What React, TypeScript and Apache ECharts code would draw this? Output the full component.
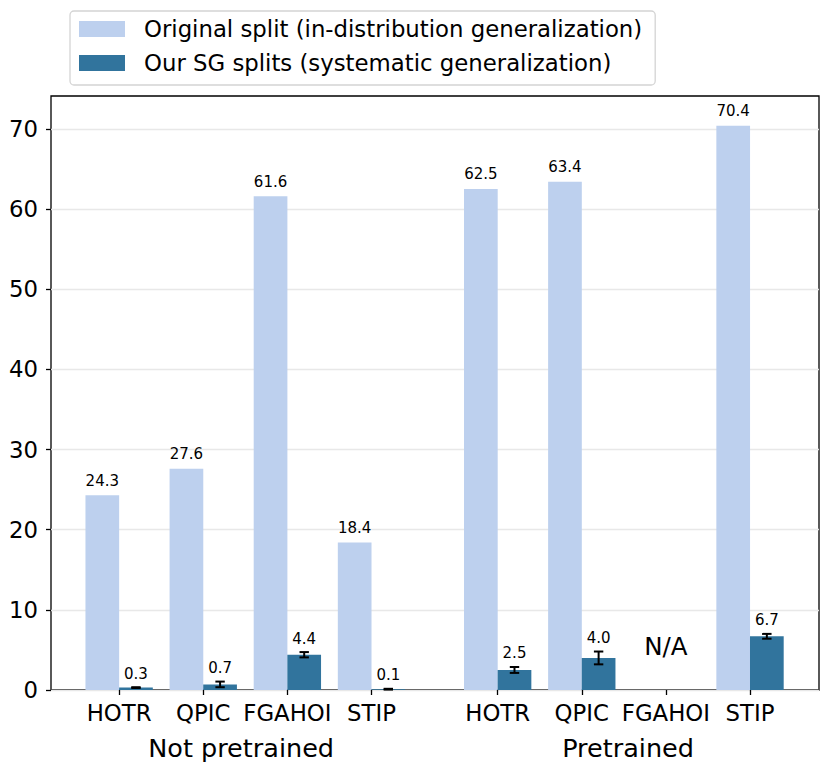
import React, { useEffect, useRef } from "react";
import * as echarts from "echarts";

const models = ["HOTR", "QPIC", "FGAHOI", "STIP", "HOTR", "QPIC", "FGAHOI", "STIP"];
const positions = [0, 1, 2, 3, 4.5, 5.5, 6.5, 7.5];
const groups = ["Not pretrained", "Pretrained"];
const groupPositions = [1.45, 6.05];
const originalSplit: (number | null)[] = [24.3, 27.6, 61.6, 18.4, 62.5, 63.4, null, 70.4];
const sgSplit: (number | null)[] = [0.3, 0.7, 4.4, 0.1, 2.5, 4.0, null, 6.7];
const sgError: (number | null)[] = [0.05, 0.35, 0.33, 0.05, 0.37, 0.8, null, 0.3];
const yTicks = [0, 10, 20, 30, 40, 50, 60, 70];
const naNote = { label: "N/A", index: 6 };

const FONT = "DejaVu Sans";
const LIGHT = "#bdd0ee";
const DARK = "#31749d";

export default function App() {
  const ref = useRef<HTMLDivElement>(null);
  useEffect(() => {
    if (!ref.current) return;
    const chart = echarts.init(ref.current, undefined, { renderer: "svg" });
    const lightData: any[] = [];
    const darkData: any[] = [];
    const errData: any[] = [];
    positions.forEach((p, i) => {
      if (originalSplit[i] != null) lightData.push([p - 0.2, originalSplit[i]]);
      if (sgSplit[i] != null) {
        darkData.push([p + 0.2, sgSplit[i]]);
        errData.push([p + 0.2, sgSplit[i], sgError[i]]);
      }
    });
    const labelOf = (v: number) => {
      for (let i = 0; i < positions.length; i++) if (Math.abs(positions[i] - v) < 1e-6) return models[i];
      return "";
    };
    const groupOf = (v: number) => {
      for (let i = 0; i < groupPositions.length; i++) if (Math.abs(groupPositions[i] - v) < 1e-6) return groups[i];
      return "";
    };
    const option: any = {
      animation: false,
      textStyle: { fontFamily: FONT },
      grid: {
        left: 51,
        right: 11,
        top: 96,
        bottom: 85,
        show: true,
        borderColor: "#000",
        borderWidth: 1.3,
        backgroundColor: "transparent",
      },
      legend: {
        orient: "vertical",
        left: 70,
        top: 11,
        padding: [5, 13, 9, 9],
        itemWidth: 46,
        itemHeight: 16,
        itemGap: 8,
        icon: "rect",
        backgroundColor: "#fff",
        borderColor: "#d4d4d4",
        borderWidth: 1.3,
        borderRadius: 4,
        textStyle: {
          fontFamily: FONT,
          fontSize: 22.8,
          lineHeight: 26,
          color: "#000",
          padding: [0, 0, 0, 14],
        },
        data: [
          "Original split (in-distribution generalization)",
          "Our SG splits (systematic generalization)",
        ],
      },
      xAxis: [
        {
          type: "value",
          min: -0.81,
          max: 8.32,
          axisLine: { show: false, onZero: false },
          splitLine: { show: false },
          axisTick: {
            show: true,
            customValues: positions,
            length: 5,
            lineStyle: { color: "#000", width: 1.3 },
          },
          axisLabel: {
            customValues: positions,
            formatter: (v: number) => labelOf(v),
            fontFamily: FONT,
            fontSize: 22.8,
            color: "#000",
            margin: 11,
          },
        },
        {
          type: "value",
          position: "bottom",
          min: -0.81,
          max: 8.32,
          axisLine: { show: false, onZero: false },
          splitLine: { show: false },
          axisTick: { show: false },
          axisLabel: {
            customValues: groupPositions,
            formatter: (v: number) => groupOf(v),
            fontFamily: FONT,
            fontSize: 25.5,
            color: "#000",
            margin: 45,
          },
        },
      ],
      yAxis: {
        type: "value",
        position: "left",
        min: 0,
        max: 74.1,
        interval: 10,
        axisLine: { show: false, onZero: false },
        axisTick: {
          show: true,
          customValues: yTicks,
          length: 5,
          lineStyle: { color: "#000", width: 1.3 },
        },
        axisLabel: {
          customValues: yTicks,
          fontFamily: FONT,
          fontSize: 22.8,
          color: "#000",
          margin: 13,
        },
        splitLine: { show: true, lineStyle: { color: "#e8e8e8", width: 1.3 } },
      },
      series: [
        {
          name: "Original split (in-distribution generalization)",
          type: "bar",
          xAxisIndex: 0,
          data: lightData,
          barWidth: 33.7,
          barGap: "-100%",
          itemStyle: { color: LIGHT },
          label: {
            show: true,
            position: "top",
            distance: 7,
            formatter: (p: any) => Number(p.value[1]).toFixed(1),
            fontFamily: FONT,
            fontSize: 15,
            color: "#000",
          },
        },
        {
          name: "Our SG splits (systematic generalization)",
          type: "bar",
          xAxisIndex: 0,
          data: darkData,
          barWidth: 33.7,
          barGap: "-100%",
          itemStyle: { color: DARK },
        },
        {
          type: "custom",
          xAxisIndex: 0,
          data: errData,
          z: 10,
          renderItem: (params: any, api: any) => {
            const x = api.value(0);
            const v = api.value(1);
            const e = api.value(2);
            const hi = api.coord([x, v + e]);
            const lo = api.coord([x, Math.max(0, v - e)]);
            const cap = 4.7;
            const ls = { stroke: "#000", lineWidth: 2 };
            return {
              type: "group",
              children: [
                { type: "line", shape: { x1: hi[0], y1: hi[1], x2: lo[0], y2: lo[1] }, style: ls },
                { type: "line", shape: { x1: hi[0] - cap, y1: hi[1], x2: hi[0] + cap, y2: hi[1] }, style: ls },
                { type: "line", shape: { x1: lo[0] - cap, y1: lo[1], x2: lo[0] + cap, y2: lo[1] }, style: ls },
                {
                  type: "text",
                  x: hi[0],
                  y: hi[1] - 6,
                  style: {
                    text: Number(v).toFixed(1),
                    align: "center",
                    verticalAlign: "bottom",
                    fontFamily: FONT,
                    fontSize: 15,
                    fill: "#000",
                  },
                },
              ],
            };
          },
        },
        {
          type: "custom",
          xAxisIndex: 0,
          data: [[positions[naNote.index], 5.4]],
          silent: true,
          z: 10,
          renderItem: (params: any, api: any) => {
            const c = api.coord([api.value(0), api.value(1)]);
            return {
              type: "text",
              x: c[0],
              y: c[1],
              style: {
                text: naNote.label,
                align: "center",
                verticalAlign: "middle",
                fontFamily: FONT,
                fontSize: 24.5,
                fill: "#000",
              },
            };
          },
        },
      ],
    };
    chart.setOption(option);
    return () => chart.dispose();
  }, []);
  return (
    <div
      ref={ref}
      style={{ position: "fixed", left: 0, top: 0, width: 830, height: 775, background: "#fff" }}
    />
  );
}
